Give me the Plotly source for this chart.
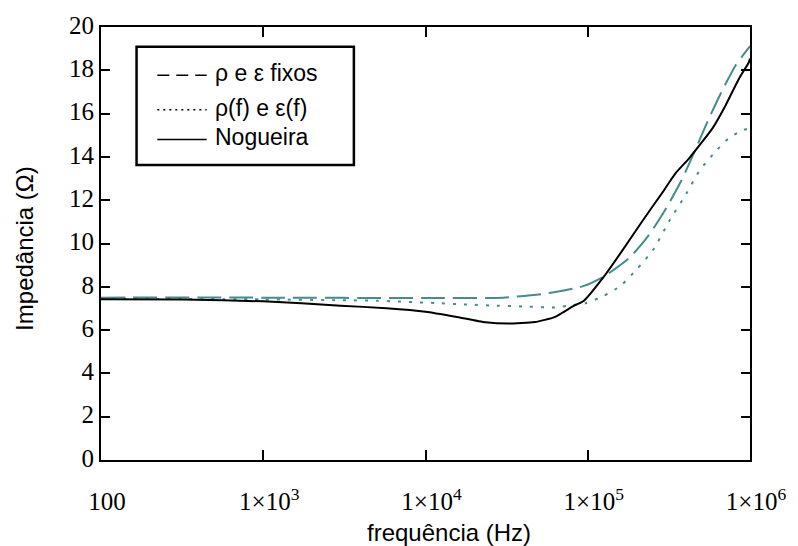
import plotly.graph_objects as go

# Impedância vs frequência for three soil models
freq_fixos = [100, 1e3, 1e4, 3e4, 5.19e4, 6.84e4, 8.24e4, 9.48e4, 1.26e5, 1.80e5,
              2.38e5, 3.01e5, 3.77e5, 4.54e5, 5.47e5, 6.59e5, 8.13e5, 9.82e5, 1e6]
z_fixos = [7.5, 7.5, 7.48, 7.5, 7.66, 7.81, 7.93, 8.04, 8.48, 9.33,
           10.39, 11.57, 12.90, 14.22, 15.63, 16.92, 18.21, 19.04, 19.12]

freq_var = [100, 1e3, 3e3, 5e3, 1.15e4, 1.8e4, 2.5e4, 4e4, 6.5e4, 7.5e4, 9.7e4,
            1.26e5, 1.59e5, 2.0e5, 2.53e5, 3.2e5, 4.04e5, 4.87e5, 6.15e5,
            7.41e5, 9.16e5, 1e6]
z_var = [7.45, 7.42, 7.38, 7.36, 7.25, 7.18, 7.14, 7.09, 7.05, 7.13, 7.24,
         7.59, 8.04, 8.80, 9.71, 11.07, 12.29, 13.35, 14.26,
         14.87, 15.25, 15.32]

freq_nog = [100, 3.16e2, 1e3, 3e3, 5.75e3, 1.0e4, 1.53e4, 2.34e4,
            3.24e4, 4.71e4, 6.24e4, 8.24e4, 9.48e4, 1.26e5, 1.66e5, 2.2e5,
            2.92e5, 3.13e5, 3.51e5, 4.24e5, 5.88e5, 7.08e5, 8.53e5, 9.82e5, 1e6]
z_nog = [7.42, 7.41, 7.33, 7.13, 7.01, 6.85, 6.62, 6.36,
         6.30, 6.37, 6.60, 7.13, 7.36, 8.48, 9.75, 11.1,
         12.41, 12.75, 13.28, 13.96, 15.33, 16.39, 17.60, 18.36, 18.55]

x_tickvals = [100, 1e3, 1e4, 1e5, 1e6]
x_ticktext = ["100", "1×10<sup>3</sup>", "1×10<sup>4</sup>",
              "1×10<sup>5</sup>", "1×10<sup>6</sup>"]
y_tickvals = list(range(0, 21, 2))

legend_labels = ["ρ e ε fixos", "ρ(f) e ε(f)", "Nogueira"]

TEAL = "#468c8c"
SERIF = "Liberation Serif, Times New Roman, serif"
SANS = "Liberation Sans, Arial, sans-serif"

# plot area in pixels
L, R, T, B = 101, 758, 21, 460
W_FIG, H_FIG = 798, 546


def px(xp):
    return (xp - L) / (R - L)


def py(yp):
    return (B - yp) / (B - T)


fig = go.Figure()
fig.add_trace(go.Scatter(x=freq_fixos, y=z_fixos, mode="lines",
                         line=dict(color=TEAL, width=2, dash="24px,8px", shape="spline", smoothing=0.6),
                         showlegend=False))
fig.add_trace(go.Scatter(x=freq_var, y=z_var, mode="lines",
                         line=dict(color=TEAL, width=2, dash="3px,8px", shape="spline", smoothing=0.6),
                         showlegend=False))
fig.add_trace(go.Scatter(x=freq_nog, y=z_nog, mode="lines",
                         line=dict(color="black", width=2, shape="spline", smoothing=0.5),
                         showlegend=False))

axis_common = dict(showline=True, linecolor="black", linewidth=2, mirror="ticks",
                   ticks="inside", tickcolor="black", tickwidth=2,
                   showgrid=False, zeroline=False,
                   tickfont=dict(family=SERIF, size=25, color="black"))

fig.update_xaxes(type="log", range=[2, 6], tickvals=x_tickvals, ticktext=x_ticktext,
                 ticklen=10, ticklabelstandoff=18, ticklabelshift=6, **axis_common)
fig.update_yaxes(range=[0, 20], tickvals=y_tickvals, ticklen=9,
                 ticklabelshift=-2, **axis_common)

# legend box with line samples
shapes = [dict(type="rect", xref="paper", yref="paper",
               x0=px(137), x1=px(357), y0=py(41), y1=py(161),
               line=dict(color="black", width=2.5), fillcolor="white", layer="above")]
rows = [70, 105, 135]
dashes = ["12px,7px", "2px,4px", "solid"]
annotations = []
for r, d, lab in zip(rows, dashes, legend_labels):
    shapes.append(dict(type="line", xref="paper", yref="paper",
                       x0=px(158), x1=px(208), y0=py(r), y1=py(r),
                       line=dict(color="black", width=1.5, dash=d), layer="above"))
    annotations.append(dict(text=lab, xref="paper", yref="paper",
                            x=px(214), y=py(r - 2), xanchor="left", yanchor="middle",
                            showarrow=False, font=dict(family=SANS, size=23, color="black")))

# axis titles
annotations.append(dict(text="frequência (Hz)", xref="paper", yref="paper",
                        x=px(453), y=py(533), xanchor="center", yanchor="middle",
                        showarrow=False, font=dict(family=SANS, size=24, color="black")))
annotations.append(dict(text="Impedância (Ω)", xref="paper", yref="paper",
                        x=px(24), y=py(245), xanchor="center", yanchor="middle",
                        textangle=-90, showarrow=False,
                        font=dict(family=SANS, size=24, color="black")))

fig.update_layout(width=W_FIG, height=H_FIG,
                  margin=dict(l=L, r=W_FIG - R, t=T, b=H_FIG - B),
                  paper_bgcolor="white", plot_bgcolor="white",
                  shapes=shapes, annotations=annotations, showlegend=False)

fig.write_html("out.html")
